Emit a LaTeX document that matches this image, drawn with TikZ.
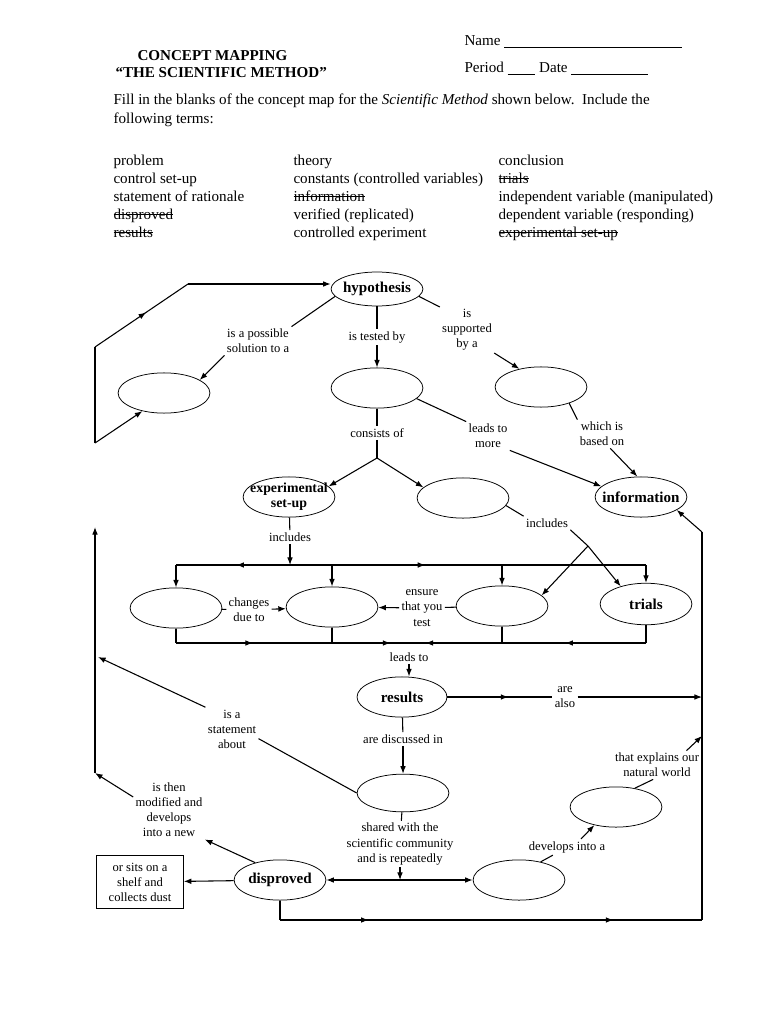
\documentclass[tikz,border=0pt]{standalone}
\usepackage{fontspec}
\setmainfont{Liberation Serif}
\usetikzlibrary{shapes.geometric,decorations.markings,positioning,arrows.meta}

\newsavebox\strkbox
\newcommand\strk[1]{\sbox\strkbox{#1}\rlap{\rule[0.3em]{\wd\strkbox}{0.5pt}}\usebox\strkbox}

\tikzset{
  bub/.style={draw, ellipse, line width=0.6pt, minimum width=73pt, minimum height=32pt, inner sep=0pt},
  word/.style={label={[font=\fontsize{12pt}{12.5pt}\selectfont\bfseries, align=center]center:#1}},
  lbl/.style={font=\fontsize{10pt}{12pt}\selectfont, align=center, inner sep=1.5pt},
  hdr/.style={font=\fontsize{12pt}{14.3pt}\selectfont, anchor=west, inner sep=0pt, align=left},
  arr/.style={-{Latex[length=6pt,width=4.5pt]}},
  dblarr/.style={{Latex[length=6pt,width=4.5pt]}-{Latex[length=6pt,width=4.5pt]}},
  midarr/.style={postaction={decorate}, decoration={markings, mark=at position #1 with {\arrow{Latex[length=6pt,width=4.5pt]}}}},
  twoarr/.style n args={2}{postaction={decorate}, decoration={markings, mark=at position #1 with {\arrow{Latex[length=6pt,width=4.5pt]}}, mark=at position #2 with {\arrow{Latex[length=6pt,width=4.5pt]}}}},
}

\begin{document}
\begin{tikzpicture}[x=0.7948pt, y=-0.7948pt, line width=0.85pt]
	\useasboundingbox (0,0) rectangle (770,1024);

	% header
	\node[hdr, font=\fontsize{12pt}{14pt}\selectfont\bfseries] (title) at (137,56) {CONCEPT MAPPING};
	\node[hdr, font=\fontsize{12pt}{14pt}\selectfont\bfseries] (subtitle) at (115,73) {“THE SCIENTIFIC METHOD”};
	\node[hdr] (name) at (464,42) {Name \rule[-1.5pt]{141pt}{0.5pt}};
	\node[hdr] (period) at (464,68) {Period \rule[-1.5pt]{22pt}{0.5pt} Date \rule[-1.5pt]{61pt}{0.5pt}};
	\node[hdr] (fill) at (113,101) {Fill in the blanks of the concept map for the \textit{Scientific Method} shown below.\ \ Include the};
	\node[hdr] (fill2) at (113,120) {following terms:};
	\node[hdr] (colA) at (113,199) {problem\\control set-up\\statement of rationale\\\strk{disproved}\\\strk{results}\strut};
	\node[hdr] (colB) at (293,199) {theory\\constants (controlled variables)\\\strk{information}\\verified (replicated)\\controlled experiment\strut};
	\node[hdr] (colC) at (498,199) {conclusion\\\strk{trials}\\independent variable (manipulated)\\dependent variable (responding)\\\strk{experimental set-up}\strut};

	% concept bubbles
	\node[bub, minimum height=27pt, word=hypothesis] (hyp) at (377,289) {};
	\node[bub] (prob) at (164,393) {};
	\node[bub] (exper) at (377,388) {};
	\node[bub] (ratl) at (541,387) {};
	\node[bub, label={[font=\fontsize{11pt}{12pt}\selectfont\bfseries, align=center]center:experimental\\set-up}] (setup) at (289,497) {};
	\node[bub] (const) at (463,498) {};
	\node[bub, word=information] (info) at (641,497) {};
	\node[bub] (iv) at (176,608) {};
	\node[bub] (dv) at (332,607) {};
	\node[bub] (ctl) at (502,606) {};
	\node[bub, minimum height=33pt, word=trials] (trials) at (646,604) {};
	\node[bub, minimum width=71.5pt, word=results] (res) at (402,697) {};
	\node[bub, minimum height=30pt] (concl) at (403,793) {};
	\node[bub, word=disproved] (dis) at (280,880) {};
	\node[bub] (verf) at (519,880) {};
	\node[bub] (theory) at (616,807) {};
	\node[lbl, draw, line width=0.6pt, minimum width=69pt, minimum height=42pt] (dust) at (140,882) {or sits on a\\shelf and\\collects dust};

	% link words
	\node[lbl] (lSol) at (258,341) {is a possible\\solution to a};
	\node[lbl] (lTest) at (377,337) {is tested by};
	\node[lbl] (lSupp) at (467,330) {is\\supported\\by a};
	\node[lbl] (lCons) at (377,433) {consists of};
	\node[lbl] (lMore) at (488,436) {leads to\\more};
	\node[lbl] (lBased) at (602,434) {which is\\based on};
	\node[lbl] (lIncA) at (290,537) {includes};
	\node[lbl] (lIncB) at (547,523) {includes};
	\node[lbl] (lChg) at (249,610) {changes\\due to};
	\node[lbl] (lEns) at (422,608) {ensure\\that you\\test};
	\node[lbl] (lLead) at (409,657) {leads to};
	\node[lbl] (lAlso) at (565,697) {are\\also};
	\node[lbl] (lDisc) at (403,739) {are discussed in};
	\node[lbl] (lStat) at (232,729) {is a\\statement\\about};
	\node[lbl] (lMod) at (169,810) {is then\\modified and\\develops\\into a new};
	\node[lbl] (lShare) at (400,844) {shared with the\\scientific community\\and is repeatedly};
	\node[lbl] (lDev) at (567,847) {develops into a};
	\node[lbl] (lNat) at (657,765) {that explains our\\natural world};

	% corners and junctions
	\coordinate (lpA) at (95,443);
	\coordinate (lpB) at (95,347);
	\coordinate (lpC) at (188,284);
	\coordinate (fkA) at (377,458);
	\coordinate (fkB) at (588,546);
	\coordinate (tM) at (290,565);
	\coordinate (bM) at (409,643);
	\coordinate (rtTop) at (702,532);
	\coordinate (rtBot) at (702,920);
	\coordinate (rtNat) at (702,736);
	\coordinate (lfTop) at (95,527);
	\coordinate (lfBot) at (95,773);
	\coordinate (lfArr) at (98,657);

	% left loop
	\draw (lpA) -- (lpB);
	\draw[midarr=0.55] (lpB) -- (lpC);
	\draw[arr] (lpC) -- (lpC -| hyp.west);
	\draw[arr] (lpA) -- (prob.220);

	% hypothesis
	\draw (hyp.190) -- (lSol.north east);
	\draw[arr] (lSol.south west) -- (prob.20);
	\draw (hyp) -- (lTest);
	\draw[arr] (lTest) -- (exper);
	\draw (hyp.-10) -- (lSupp.north west);
	\draw[arr] (lSupp.south east) -- (ratl.140);
	\draw (ratl.-30) -- (lBased.north west);
	\draw[arr] (lBased.-60) -- (info.100);

	% experiment
	\draw (exper) -- (lCons);
	\draw (lCons) -- (fkA);
	\draw[arr] (fkA) -- (setup.15);
	\draw[arr] (fkA) -- (const.165);
	\draw (exper.-15) -- (lMore.north west);
	\draw[arr] (lMore.south east) -- (info.165);
	\draw[arr] (rtTop) -- (info.-20);
	\draw (const.-10) -- (lIncB.north west);
	\draw (lIncB.south east) -- (fkB);
	\draw[arr] (fkB) -- (ctl.15);
	\draw[arr] (fkB) -- (trials.145);

	% set-up bus
	\draw (setup) -- (lIncA);
	\draw[arr] (lIncA) -- (tM);
	\draw[midarr=0.47] (tM) -- (iv.north |- tM);
	\draw[midarr=0.38] (tM) -- (trials.north |- tM);
	\foreach \n in {iv,dv,ctl,trials}
		\draw[arr] (\n.north |- tM) -- (\n.north);
	\draw (iv) -- (lChg);
	\draw[arr] (lChg) -- (dv);
	\draw (ctl) -- (lEns);
	\draw[arr] (lEns) -- (dv);
	\foreach \n in {iv,dv,ctl,trials}
		\draw (\n.south) -- (\n.south |- bM);
	\draw[twoarr={0.33}{0.92}] (iv.south |- bM) -- (bM);
	\draw[twoarr={0.34}{0.93}] (trials.south |- bM) -- (bM);
	\draw[arr] (lLead.south) -- (lLead.south |- res.north);

	% results
	\draw[midarr=0.58] (res) -- (lAlso);
	\draw[arr] (lAlso) -- (lAlso -| rtTop);
	\draw (res) -- (lDisc);
	\draw[arr] (lDisc) -- (concl);
	\draw (concl.west) -- (lStat.-20);
	\draw[arr] (lStat.north west) -- (lfArr);
	\draw[arr] (lfBot) -- (lfTop);
	\draw[arr] (lMod.160) -- (lfBot);
	\draw[arr] (dis.145) -- (lMod.south east);
	\draw[arr] (dis) -- (dust);
	\draw[dblarr] (dis) -- (verf);
	\draw (concl) -- (lShare);
	\draw[arr] (lShare) -- (lShare |- dis);
	\draw (verf.40) -- (lDev.-150);
	\draw[arr] (lDev.30) -- (theory.-140);
	\draw (theory.45) -- (lNat.-105);
	\draw[arr] (lNat.26) -- (rtNat);

	% return line
	\draw (dis.south) -- (dis.south |- rtBot);
	\draw[twoarr={0.21}{0.79}] (dis.south |- rtBot) -- (rtBot);
	\draw (rtBot) -- (rtTop);
\end{tikzpicture}
\end{document}
